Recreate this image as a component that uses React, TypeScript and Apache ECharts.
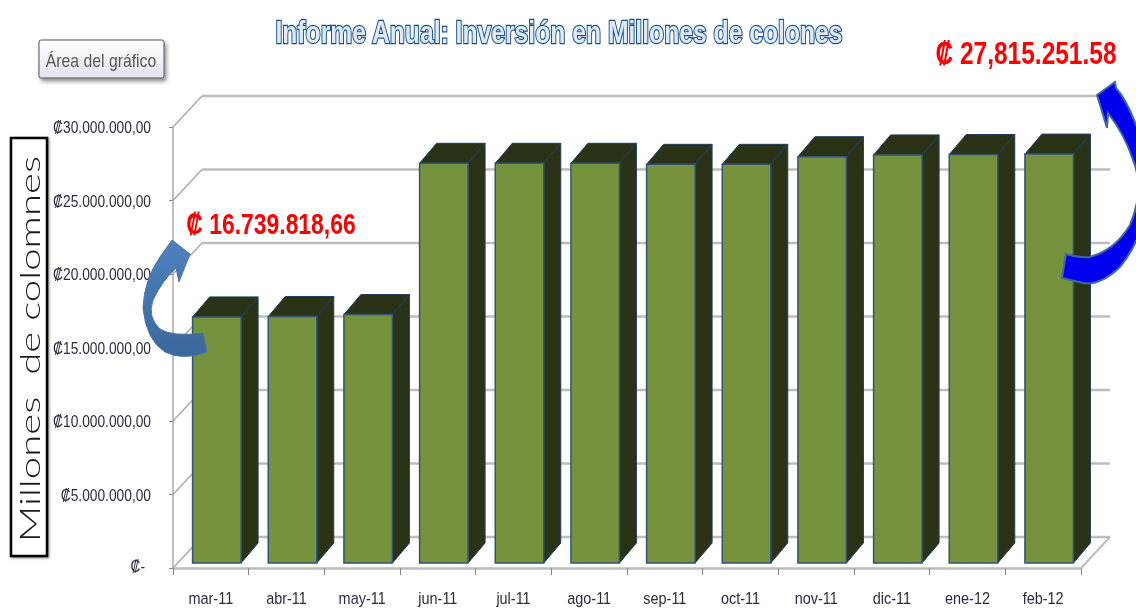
import React, { useEffect, useRef } from "react";
import * as echarts from "echarts";

const categories = ["mar-11","abr-11","may-11","jun-11","jul-11","ago-11","sep-11","oct-11","nov-11","dic-11","ene-12","feb-12"];
const investment = [16739818.66,16770000,16900000,27190000,27190000,27190000,27120000,27120000,27640000,27760000,27790000,27815251.58];
const wallTicks = [0,5000000,10000000,15000000,20000000,25000000,30000000];
const titleText = "Informe Anual: Inversión en Millones de colones";
const axisTitle = "Millones  de colomnes";
const buttonText = "Área del gráfico";
const noteLeft = "₡ 16.739.818,66";
const noteRight = "₡ 27,815.251.58";

const SANS = '"Liberation Sans", sans-serif';
const LABEL = "#2b2b40";

const arrowLeftPath = "M172 240 L190 254 L179 282 L176 268 Q162 281 153 300 Q147 317 160 329 Q172 337 203 333 L207 352 Q183 361 165 352 Q146 340 143 308 Q144 280 160 257 Z";
const arrowRightPath = "M1097 95 L1115 82 L1116 88 Q1134 108 1150 170 Q1150 230 1120 267 Q1100 286 1083 283 L1062 278 L1066 254 Q1080 258 1090 257 Q1115 250 1130 225 Q1145 190 1133 160 Q1125 135 1108 113 L1107 128 Z";

const tickLabel = (v: number) =>
  v === 0 ? "₡-" : "₡" + v.toLocaleString("de-DE", { minimumFractionDigits: 2 });

export default function App() {
  const ref = useRef<HTMLDivElement>(null);
  useEffect(() => {
    if (!ref.current) return;
    echarts.graphic.registerShape("arrowLeft", echarts.graphic.extendPath(arrowLeftPath, {}));
    echarts.graphic.registerShape("arrowRight", echarts.graphic.extendPath(arrowRightPath, {}));
    const chart = echarts.init(ref.current, null, { renderer: "svg" });
    const WALL_DX = 29, WALL_DY = -31;
    const BAR_W = 48.5, BAR_DX = 6, BAR_DY = -5, DEPTH_X = 17, DEPTH_Y = -20;
    chart.setOption({
      animation: false,
      backgroundColor: "#ffffff",
      grid: { left: 173, top: 127, width: 908, height: 441, containLabel: false },
      xAxis: {
        type: "category",
        data: categories,
        axisLine: { show: true, lineStyle: { color: "#bdbdbd", width: 2.5 } },
        axisTick: { show: true, length: 7, lineStyle: { color: "#8a8a8a", width: 1 } },
        axisLabel: { show: false },
        splitLine: { show: false },
      },
      yAxis: {
        type: "value",
        min: 0,
        max: 30000000,
        interval: 5000000,
        axisLine: { show: true, lineStyle: { color: "#ababab", width: 1.5 } },
        axisTick: { show: true, length: 4, lineStyle: { color: "#8a8a8a", width: 1 } },
        splitLine: { show: false },
        axisLabel: { show: false },
      },
      series: [
        {
          type: "custom",
          coordinateSystem: "cartesian2d",
          z: 1,
          silent: true,
          clip: false,
          data: wallTicks.map((v) => [categories[0], v]),
          encode: { x: 0, y: 1 },
          renderItem: (params: any, api: any) => {
            const v = api.value(1);
            const y = api.coord([categories[0], v])[1];
            const cs = params.coordSys;
            const x0 = cs.x, x1 = cs.x + cs.width;
            const children: any[] = [
              { type: "line", shape: { x1: x0, y1: y, x2: x0 + WALL_DX, y2: y + WALL_DY }, style: { stroke: "#ababab", lineWidth: 1.5 } },
              { type: "line", shape: { x1: x0 + WALL_DX, y1: y + WALL_DY, x2: x1 + WALL_DX, y2: y + WALL_DY }, style: { stroke: "#bdbdbd", lineWidth: 2.5 } },
              {
                type: "text", x: v === 0 ? x0 - 28 : x0 - 22, y: v === 0 ? y - 2 : y, scaleX: 0.81,
                style: { text: tickLabel(v), fontFamily: SANS, fontSize: 17, fill: LABEL, align: "right", verticalAlign: "middle" },
              },
            ];
            if (v === 0) {
              children.push({ type: "line", shape: { x1, y1: y, x2: x1 + WALL_DX, y2: y + WALL_DY }, style: { stroke: "#bdbdbd", lineWidth: 2 } });
            }
            return { type: "group", children };
          },
        },
        {
          type: "custom",
          coordinateSystem: "cartesian2d",
          z: 2,
          clip: false,
          data: categories.map((c, i) => [c, investment[i]]),
          encode: { x: 0, y: 1 },
          renderItem: (_p: any, api: any) => {
            const top = api.coord([api.value(0), api.value(1)]);
            const base = api.coord([api.value(0), 0]);
            const l = top[0] - BAR_W / 2 + BAR_DX;
            const r = l + BAR_W;
            const t = top[1] + BAR_DY;
            const b = base[1] + BAR_DY;
            const edge = "#1f3a5f";
            const dark = "#2b3316";
            return {
              type: "group",
              children: [
                { type: "polygon", shape: { points: [[l, t], [l + DEPTH_X, t + DEPTH_Y], [r + DEPTH_X, t + DEPTH_Y], [r, t]] }, style: { fill: dark, stroke: edge, lineWidth: 1 } },
                { type: "polygon", shape: { points: [[r, t], [r + DEPTH_X, t + DEPTH_Y], [r + DEPTH_X, b + DEPTH_Y], [r, b]] }, style: { fill: dark, stroke: edge, lineWidth: 1 } },
                { type: "rect", shape: { x: l, y: t, width: BAR_W, height: b - t }, style: { fill: "#76923c", stroke: "#2f5578", lineWidth: 1.5 } },
                {
                  type: "text", x: top[0], y: base[1] + 30, scaleX: 0.85,
                  style: { text: categories[_p.dataIndex], fontFamily: SANS, fontSize: 17, fill: LABEL, align: "center", verticalAlign: "middle" },
                },
              ],
            };
          },
        },
      ],
      graphic: [
        {
          type: "text", z: 50, x: 559, y: 32, scaleX: 0.797,
          style: {
            text: titleText, fontFamily: SANS, fontWeight: "bold", fontSize: 31, align: "center", verticalAlign: "middle",
            fill: "#dfeaf6", stroke: "#17508f", lineWidth: 2.4, shadowColor: "rgba(60,100,150,0.6)", shadowBlur: 3, shadowOffsetX: 1, shadowOffsetY: 1,
          },
        },
        {
          type: "rect", z: 50, shape: { x: 39, y: 40, width: 125, height: 38, r: 2 },
          style: {
            fill: new echarts.graphic.LinearGradient(0, 0, 0, 1, [{ offset: 0, color: "#ffffff" }, { offset: 1, color: "#e4e4f0" }]),
            stroke: "#555555", lineWidth: 1, shadowColor: "rgba(0,0,0,0.45)", shadowBlur: 4, shadowOffsetX: 2, shadowOffsetY: 3,
          },
        },
        {
          type: "text", z: 51, x: 101, y: 60, scaleX: 0.83,
          style: { text: buttonText, fontFamily: SANS, fontSize: 19, fill: "#565656", align: "center", verticalAlign: "middle" },
        },
        {
          type: "rect", z: 50, shape: { x: 11, y: 138, width: 36, height: 418 },
          style: { fill: "#ffffff", stroke: "#000000", lineWidth: 2.5, shadowColor: "rgba(0,0,0,0.5)", shadowBlur: 2, shadowOffsetX: 1, shadowOffsetY: 1 },
        },
        {
          type: "text", z: 51, x: 29, y: 349, rotation: Math.PI / 2, scaleX: 1.49,
          style: { text: axisTitle, fontFamily: '"Lato", "Liberation Sans", sans-serif', fontWeight: 300, fontSize: 27, fill: "#1a1a1a", align: "center", verticalAlign: "middle" },
        },
        {
          type: "text", z: 60, x: 271, y: 224, scaleX: 0.79,
          style: { text: noteLeft, fontFamily: SANS, fontWeight: "bold", fontSize: 29, fill: "#ff0000", align: "center", verticalAlign: "middle" },
        },
        {
          type: "text", z: 60, x: 1026, y: 53, scaleX: 0.79,
          style: { text: noteRight, fontFamily: SANS, fontWeight: "bold", fontSize: 31, fill: "#ff0000", align: "center", verticalAlign: "middle" },
        },
        {
          type: "arrowLeft", z: 55,
          style: {
            fill: new echarts.graphic.LinearGradient(0, 0, 0, 1, [{ offset: 0, color: "#4f81bd" }, { offset: 1, color: "#3b679b" }]),
            stroke: "#4a76ad", lineWidth: 1,
          },
        },
        {
          type: "arrowRight", z: 55,
          style: { fill: "#0000ee", stroke: "#3f6a9c", lineWidth: 2 },
        },
      ],
    });
    return () => chart.dispose();
  }, []);
  return <div ref={ref} style={{ position: "fixed", left: 0, top: 0, width: 1136, height: 609, filter: "blur(0.4px)" }} />;
}
